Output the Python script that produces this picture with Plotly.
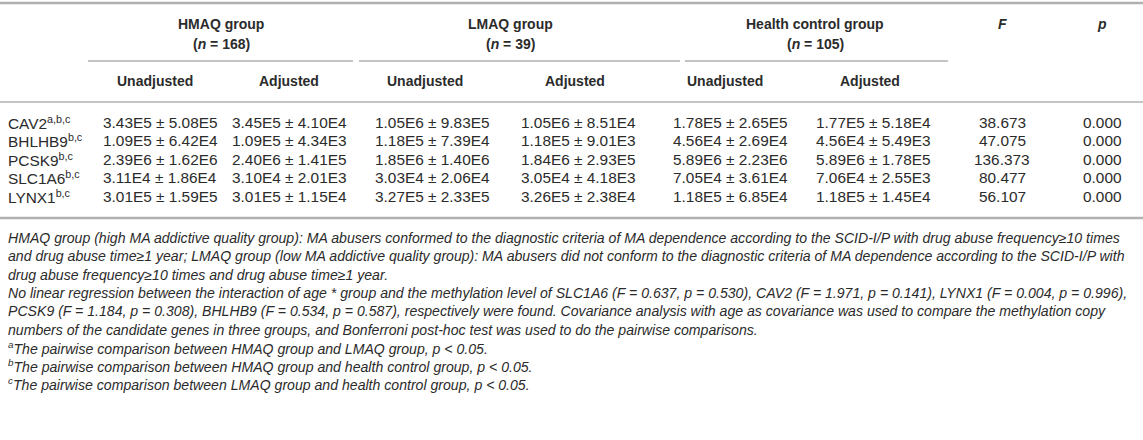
import plotly.graph_objects as go

# table content
genes = ["CAV2", "BHLHB9", "PCSK9", "SLC1A6", "LYNX1"]
gene_marks = ["a,b,c", "b,c", "b,c", "b,c", "b,c"]
groups = ["HMAQ group", "LMAQ group", "Health control group"]
group_n = [168, 39, 105]
sub_heads = ["Unadjusted", "Adjusted"]
hmaq_unadj = ["3.43E5 ± 5.08E5", "1.09E5 ± 6.42E4", "2.39E6 ± 1.62E6", "3.11E4 ± 1.86E4", "3.01E5 ± 1.59E5"]
hmaq_adj = ["3.45E5 ± 4.10E4", "1.09E5 ± 4.34E3", "2.40E6 ± 1.41E5", "3.10E4 ± 2.01E3", "3.01E5 ± 1.15E4"]
lmaq_unadj = ["1.05E6 ± 9.83E5", "1.18E5 ± 7.39E4", "1.85E6 ± 1.40E6", "3.03E4 ± 2.06E4", "3.27E5 ± 2.33E5"]
lmaq_adj = ["1.05E6 ± 8.51E4", "1.18E5 ± 9.01E3", "1.84E6 ± 2.93E5", "3.05E4 ± 4.18E3", "3.26E5 ± 2.38E4"]
hc_unadj = ["1.78E5 ± 2.65E5", "4.56E4 ± 2.69E4", "5.89E6 ± 2.23E6", "7.05E4 ± 3.61E4", "1.18E5 ± 6.85E4"]
hc_adj = ["1.77E5 ± 5.18E4", "4.56E4 ± 5.49E3", "5.89E6 ± 1.78E5", "7.06E4 ± 2.55E3", "1.18E5 ± 1.45E4"]
f_vals = ["38.673", "47.075", "136.373", "80.477", "56.107"]
p_vals = ["0.000", "0.000", "0.000", "0.000", "0.000"]

footnotes = [
    "HMAQ group (high MA addictive quality group): MA abusers conformed to the diagnostic criteria of MA dependence according to the SCID-I/P with drug abuse frequency≥10 times",
    "and drug abuse time≥1 year; LMAQ group (low MA addictive quality group): MA abusers did not conform to the diagnostic criteria of MA dependence according to the SCID-I/P with",
    "drug abuse frequency≥10 times and drug abuse time≥1 year.",
    "No linear regression between the interaction of age * group and the methylation level of SLC1A6 (F = 0.637, p = 0.530), CAV2 (F = 1.971, p = 0.141), LYNX1 (F = 0.004, p = 0.996),",
    "PCSK9 (F = 1.184, p = 0.308), BHLHB9 (F = 0.534, p = 0.587), respectively were found. Covariance analysis with age as covariance was used to compare the methylation copy",
    "numbers of the candidate genes in three groups, and Bonferroni post-hoc test was used to do the pairwise comparisons.",
    "<sup>a</sup>The pairwise comparison between HMAQ group and LMAQ group, p < 0.05.",
    "<sup>b</sup>The pairwise comparison between HMAQ group and health control group, p < 0.05.",
    "<sup>c</sup>The pairwise comparison between LMAQ group and health control group, p < 0.05.",
]

# layout in pixels
W, H = 1143, 440
col_x = [160, 289, 432, 578, 730, 873, 1002, 1102]
head_x = [155, 289, 425, 575, 725, 870]
group_x = [221, 510, 815]
group_span = [(88, 353), (359, 680), (685, 948)]
row_y = [122, 140.5, 159, 177.5, 196]
foot_y0, foot_dy = 238, 18.3
txt = "#2b2b2b"
rule = "#b0b0b0"
font = "Liberation Sans, Arial, sans-serif"

fig = go.Figure()
ann = []

def add(x, y, s, size=14, align="center", bold=False):
    ann.append(dict(x=x, y=y, text="<b>%s</b>" % s if bold else s, showarrow=False,
                    xanchor=align, yanchor="middle", font=dict(size=size, color=txt, family=font)))

# header
for i, g in enumerate(groups):
    add(group_x[i], 24, g, bold=True)
    add(group_x[i], 44, "(<i>n</i> = %d)" % group_n[i], bold=True)
    for j, s in enumerate(sub_heads):
        add(head_x[2 * i + j], 81, s, bold=True)
add(col_x[6], 24, "<i>F</i>", bold=True)
add(col_x[7], 24, "<i>p</i>", bold=True)

# body
cols = [hmaq_unadj, hmaq_adj, lmaq_unadj, lmaq_adj, hc_unadj, hc_adj, f_vals, p_vals]
for r, g in enumerate(genes):
    add(6, row_y[r], "%s<sup>%s</sup>" % (g, gene_marks[r]), size=15.4, align="left")
    for c, vals in enumerate(cols):
        add(col_x[c], row_y[r], vals[r], size=15.4)

# footnotes
for k, s in enumerate(footnotes):
    add(6, foot_y0 + k * foot_dy, "<i>%s</i>" % s, size=14.1, align="left")

# rules
shapes = [
    dict(type="line", x0=0, x1=W, y0=3, y1=3, line=dict(color=rule, width=2.5)),
    dict(type="line", x0=0, x1=W, y0=102, y1=102, line=dict(color=rule, width=1.5)),
    dict(type="line", x0=0, x1=W, y0=218, y1=218, line=dict(color=rule, width=2.5)),
]
for a, b in group_span:
    shapes.append(dict(type="line", x0=a, x1=b, y0=61, y1=61, line=dict(color=rule, width=1.5)))

fig.update_layout(
    width=W, height=H,
    margin=dict(l=0, r=0, t=0, b=0),
    paper_bgcolor="white", plot_bgcolor="white",
    xaxis=dict(range=[0, W], visible=False, fixedrange=True),
    yaxis=dict(range=[H, 0], visible=False, fixedrange=True),
    annotations=ann, shapes=shapes, showlegend=False,
)

# drop the page's default body margin so the figure sits at the window corner
fig.write_html("out.html", config=dict(displayModeBar=False),
               post_script="document.body.style.margin='0';document.body.style.overflow='hidden';")
